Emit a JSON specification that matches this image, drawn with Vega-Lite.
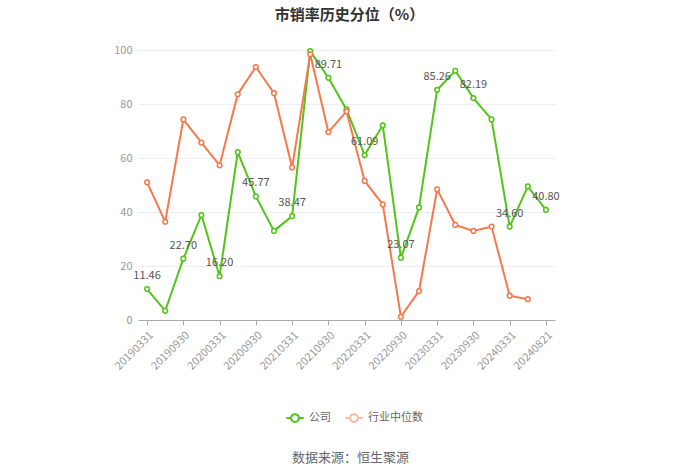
{
  "$schema": "https://vega.github.io/schema/vega-lite/v6.json",
  "autosize": "none",
  "width": 417,
  "height": 270,
  "padding": {"left": 138, "top": 50, "right": 145, "bottom": 153},
  "background": "white",
  "config": {
    "font": "Noto Sans CJK SC",
    "view": {"stroke": null}
  },
  "title": {
    "text": "市销率历史分位（%）",
    "anchor": "middle",
    "fontSize": 15,
    "fontWeight": "bold",
    "color": "#333333",
    "offset": 21,
    "dx": 3
  },
  "data": {
    "values": [
      {"date": "20190331", "series": "公司", "value": 11.46},
      {"date": "20190630", "series": "公司", "value": 3.4},
      {"date": "20190930", "series": "公司", "value": 22.70},
      {"date": "20191231", "series": "公司", "value": 38.9},
      {"date": "20200331", "series": "公司", "value": 16.20},
      {"date": "20200630", "series": "公司", "value": 62.2},
      {"date": "20200930", "series": "公司", "value": 45.77},
      {"date": "20201231", "series": "公司", "value": 33.0},
      {"date": "20210331", "series": "公司", "value": 38.47},
      {"date": "20210630", "series": "公司", "value": 99.6},
      {"date": "20210930", "series": "公司", "value": 89.71},
      {"date": "20211231", "series": "公司", "value": 78.0},
      {"date": "20220331", "series": "公司", "value": 61.09},
      {"date": "20220630", "series": "公司", "value": 72.1},
      {"date": "20220930", "series": "公司", "value": 23.07},
      {"date": "20221231", "series": "公司", "value": 41.7},
      {"date": "20230331", "series": "公司", "value": 85.26},
      {"date": "20230630", "series": "公司", "value": 92.3},
      {"date": "20230930", "series": "公司", "value": 82.19},
      {"date": "20231231", "series": "公司", "value": 74.3},
      {"date": "20240331", "series": "公司", "value": 34.60},
      {"date": "20240630", "series": "公司", "value": 49.5},
      {"date": "20240821", "series": "公司", "value": 40.80},
      {"date": "20190331", "series": "行业中位数", "value": 51.0},
      {"date": "20190630", "series": "行业中位数", "value": 36.4},
      {"date": "20190930", "series": "行业中位数", "value": 74.3},
      {"date": "20191231", "series": "行业中位数", "value": 65.7},
      {"date": "20200331", "series": "行业中位数", "value": 57.3},
      {"date": "20200630", "series": "行业中位数", "value": 83.6},
      {"date": "20200930", "series": "行业中位数", "value": 93.7},
      {"date": "20201231", "series": "行业中位数", "value": 84.0},
      {"date": "20210331", "series": "行业中位数", "value": 56.5},
      {"date": "20210630", "series": "行业中位数", "value": 98.4},
      {"date": "20210930", "series": "行业中位数", "value": 69.6},
      {"date": "20211231", "series": "行业中位数", "value": 77.3},
      {"date": "20220331", "series": "行业中位数", "value": 51.5},
      {"date": "20220630", "series": "行业中位数", "value": 42.8},
      {"date": "20220930", "series": "行业中位数", "value": 1.2},
      {"date": "20221231", "series": "行业中位数", "value": 10.7},
      {"date": "20230331", "series": "行业中位数", "value": 48.4},
      {"date": "20230630", "series": "行业中位数", "value": 35.2},
      {"date": "20230930", "series": "行业中位数", "value": 33.0},
      {"date": "20231231", "series": "行业中位数", "value": 34.6},
      {"date": "20240331", "series": "行业中位数", "value": 9.0},
      {"date": "20240630", "series": "行业中位数", "value": 7.7}
    ]
  },
  "encoding": {
    "x": {
      "field": "date",
      "type": "ordinal",
      "scale": {"type": "point", "padding": 0.5},
      "axis": {
        "values": ["20190331","20190930","20200331","20200930","20210331","20210930","20220331","20220930","20230331","20230930","20240331","20240821"],
        "labelAngle": -45,
        "labelColor": "#999999",
        "labelFontSize": 11,
        "labelPadding": 4,
        "domainColor": "#aaaaaa",
        "tickColor": "#aaaaaa",
        "tickSize": 5,
        "grid": false,
        "title": "数据来源：恒生聚源",
        "titleColor": "#666666",
        "titleFontSize": 13,
        "titleFontWeight": "normal",
        "titleX": 212,
        "titleY": 137,
        "titleBaseline": "middle",
        "titleAnchor": null,
        "titleAlign": "center"
      }
    },
    "y": {
      "field": "value",
      "type": "quantitative",
      "scale": {"domain": [0, 100], "nice": false},
      "axis": {
        "values": [0, 20, 40, 60, 80, 100],
        "title": null,
        "domain": false,
        "ticks": false,
        "labelColor": "#999999",
        "labelFontSize": 11,
        "labelPadding": 6,
        "gridColor": "#eeeeee",
        "gridWidth": 1
      }
    },
    "color": {
      "field": "series",
      "type": "nominal",
      "sort": ["公司", "行业中位数"],
      "scale": {"domain": ["公司", "行业中位数"], "range": ["#52c41a", "#f5794b"]},
      "legend": {
        "title": null,
        "orient": "none",
        "legendX": 147,
        "legendY": 358,
        "direction": "horizontal",
        "symbolType": "M-1,0H-0.45M0.45,0H1M0.45,0A0.45,0.45,0,1,1,-0.45,0A0.45,0.45,0,1,1,0.45,0Z",
        "symbolSize": 300,
        "symbolStrokeWidth": 2,
        "symbolFillColor": "white",
        "labelColor": "#666666",
        "labelFontSize": 11,
        "columnPadding": 10,
        "encode": {
          "symbols": {"update": {"opacity": {"signal": "datum.value === '行业中位数' ? 0.5 : 1"}}}
        }
      }
    }
  },
  "layer": [
    {
      "mark": {
        "type": "line",
        "strokeWidth": 2,
        "point": {"filled": false, "fill": "white", "size": 22, "strokeWidth": 1.5}
      }
    },
    {
      "transform": [
        {"filter": "datum.series === '公司'"},
        {"filter": {"field": "date", "oneOf": ["20190331","20190930","20200331","20200930","20210331","20210930","20220331","20220930","20230331","20230930","20240331","20240821"]}}
      ],
      "mark": {"type": "text", "dy": -13, "fontSize": 11, "color": "#555555"},
      "encoding": {
        "text": {"field": "value", "type": "quantitative", "format": ".2f"},
        "color": {"value": "#555555"}
      }
    }
  ]
}
